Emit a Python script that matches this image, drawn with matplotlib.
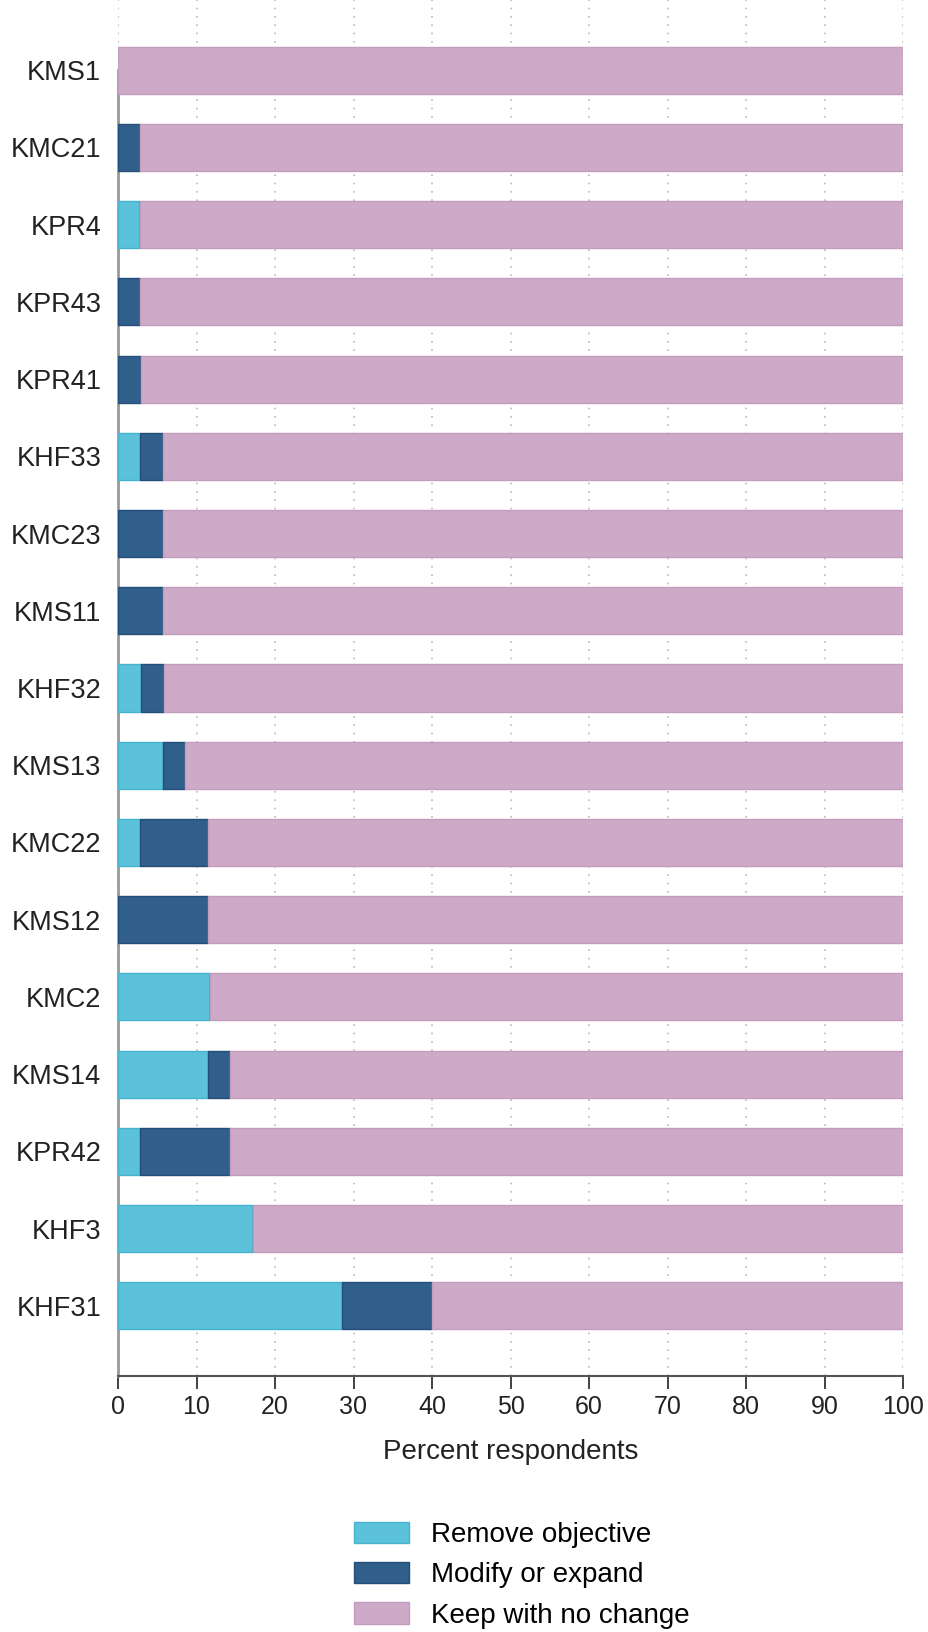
import numpy as np
import matplotlib.pyplot as plt

plt.rcParams['font.family'] = ['Liberation Sans', 'DejaVu Sans']

# categories, top to bottom
objectives = ['KMS1', 'KMC21', 'KPR4', 'KPR43', 'KPR41', 'KHF33', 'KMC23', 'KMS11',
              'KHF32', 'KMS13', 'KMC22', 'KMS12', 'KMC2', 'KMS14', 'KPR42', 'KHF3', 'KHF31']

# percent respondents
remove_objective = [0, 0, 2.86, 0, 0, 2.86, 0, 0, 2.94, 5.71, 2.86, 0, 11.76, 11.43, 2.86, 17.14, 28.57]
modify_expand = [0, 2.86, 0, 2.86, 2.94, 2.86, 5.71, 5.71, 2.94, 2.86, 8.57, 11.43, 0, 2.86, 11.43, 0, 11.43]
keep_no_change = [100 - r - m for r, m in zip(remove_objective, modify_expand)]

series = [
    ('Remove objective', remove_objective, '#5bc2da', '#45b3cf'),
    ('Modify or expand', modify_expand, '#2f5f8a', '#234f7a'),
    ('Keep with no change', keep_no_change, '#cdaac7', '#c39dbd'),
]

W, H = 929, 1632
fig = plt.figure(figsize=(W / 100, H / 100), dpi=100)
ax = fig.add_axes([118 / W, 1 - 1376 / H, 785 / W, 1376 / H])

y = np.arange(len(objectives))
left = np.zeros(len(objectives))
for name, vals, col, edge in series:
    vals = np.array(vals)
    ax.barh(y, vals, left=left, height=0.61, color=col, edgecolor=edge,
            linewidth=1, label=name, zorder=3)
    left += vals

ax.set_xlim(0, 100)
ax.set_ylim(len(objectives) - 1 + 0.91, -0.91)
ax.set_yticks(y)
ax.set_yticklabels(objectives, fontsize=19.5, color='#222222')
ax.set_xticks(np.arange(0, 101, 10))
ax.tick_params(axis='x', labelsize=18, colors='#222222', length=9, width=1.2,
               direction='out', pad=5)
for t in ax.get_xticklines():
    t.set_color('#555555')
ax.tick_params(axis='y', length=0, pad=12)

ax.xaxis.grid(True, linestyle=(0, (1, 4)), color='#bbbbbb', linewidth=1.2, zorder=0)
ax.set_axisbelow(True)

for s in ['top', 'right']:
    ax.spines[s].set_visible(False)
ax.spines['left'].set_color('#999999')
ax.spines['left'].set_linewidth(2)
ax.spines['left'].set_bounds(0, len(objectives) - 1 + 0.91)
ax.spines['bottom'].set_color('#555555')
ax.spines['bottom'].set_linewidth(1.5)

ax.set_xlabel('Percent respondents', fontsize=20, color='#222222', labelpad=14)

fig.legend(loc='upper center', bbox_to_anchor=(522 / W, 1 - 1497 / H), frameon=False,
           fontsize=20, handlelength=1.95, handleheight=0.8, handletextpad=0.8,
           labelspacing=0.5)

fig.savefig('out.png', dpi=100)
